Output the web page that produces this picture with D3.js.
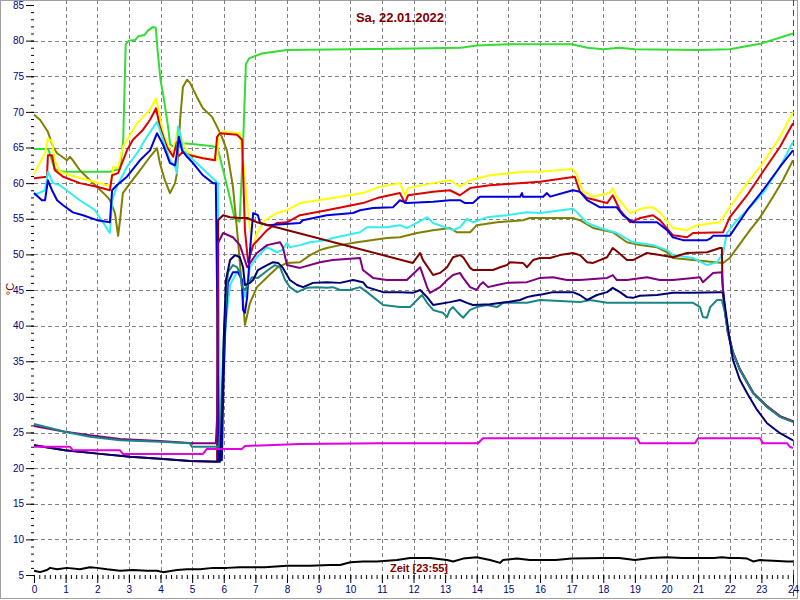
<!DOCTYPE html>
<html><head><meta charset="utf-8">
<script src="https://cdn.jsdelivr.net/npm/d3@7"></script>
<style>
html,body{margin:0;padding:0;background:#fff;}
svg{display:block;font-family:"Liberation Sans",Arial,sans-serif;}
</style></head>
<body>
<svg id="chart" width="800" height="600"></svg>
<script>
// ---------- data (hour, °C) ----------
const title = "Sa, 22.01.2022";
const timeLabel = "Zeit [23:55]";
const unitLabel = "°C";
const yTickValues = [5,10,15,20,25,30,35,40,45,50,55,60,65,70,75,80,85];
const xTickValues = [0,1,2,3,4,5,6,7,8,9,10,11,12,13,14,15,16,17,18,19,20,21,22,23,24];

const green = [[0,64.8],[0.45,64.8],[0.65,62],[0.9,61.6],[2.4,61.6],[2.72,62],[2.82,66],[2.9,79.5],[3.0,80],[3.2,80.1],[3.3,80.6],[3.5,80.8],[3.6,81.4],[3.75,81.9],[3.85,81.8],[3.9,79],[4.0,74.5],[4.1,72],[4.25,67.6],[4.3,65.5],[4.5,64.8],[4.7,65.6],[5.0,65.5],[5.6,65.2],[5.8,65],[6.0,61.5],[6.35,55],[6.5,54.6],[6.6,64],[6.7,76.7],[6.8,77.5],[7.2,78.2],[8,78.7],[12,78.9],[13.5,79],[14,79.3],[15,79.5],[17,79.5],[17.5,79],[18,78.8],[18.5,79],[19,78.8],[21,78.7],[22,78.8],[23,79.6],[24,81]];

const yellow = [[0,61.3],[0.35,64.2],[0.44,66.3],[0.57,65.8],[0.66,63.2],[0.82,61.6],[1.14,61.1],[2.4,59.6],[2.47,60.9],[2.5,62.3],[2.66,62.1],[2.81,65.1],[3.04,66.8],[3.26,68.4],[3.45,69.3],[3.67,70.3],[3.86,71.9],[3.92,70.7],[4.08,67.0],[4.3,64.6],[4.4,64.2],[4.52,67.0],[4.55,67.5],[4.68,66.1],[4.84,64.4],[5.15,63.7],[5.79,63.2],[5.82,66.8],[5.98,67.2],[6.51,67.0],[6.61,63.2],[6.89,50.6],[7.05,53.0],[7.3,54.8],[7.68,55.8],[8.0,56.2],[8.41,57.2],[9.45,57.9],[10.4,58.6],[10.94,59.5],[11.57,60.0],[11.73,58.3],[11.83,59.3],[12.62,60.0],[13.15,60.4],[13.47,59.5],[13.79,60.4],[14.42,61.1],[15.46,61.6],[16.0,61.6],[17.04,62.0],[17.17,61.1],[17.36,58.8],[17.68,58.1],[18.2,58.6],[18.3,59.3],[18.42,58.1],[18.85,55.8],[19.26,56.5],[19.57,56.6],[19.79,55.9],[20.2,53.7],[20.65,53.4],[20.96,54.1],[21.69,54.5],[22.0,56.6],[22.55,60.0],[23.05,62.8],[23.59,66.5],[24,70.0]];

const red = [[0,60.7],[0.41,60.9],[0.44,63.9],[0.57,63.9],[0.66,61.8],[0.92,60.9],[1.45,60.0],[1.99,59.5],[2.4,59.0],[2.47,61.1],[2.66,61.4],[2.94,64.6],[3.13,66.1],[3.45,67.5],[3.67,68.9],[3.86,70.5],[3.98,67.9],[4.2,65.1],[4.4,63.7],[4.52,65.8],[4.55,63.7],[4.71,64.4],[4.93,63.9],[5.34,63.5],[5.72,63.2],[5.79,66.5],[5.88,67.0],[6.42,66.8],[6.58,66.1],[6.67,53.4],[6.77,48.9],[6.93,51.3],[7.37,53.4],[7.68,54.4],[8.0,54.5],[8.41,55.5],[9.26,56.2],[10.4,57.2],[10.85,57.9],[11.57,58.6],[11.73,57.2],[11.83,58.3],[12.62,58.8],[13.15,59.0],[13.47,58.3],[13.79,59.3],[14.42,59.7],[16.0,60.2],[17.1,60.9],[17.26,58.8],[17.49,57.9],[18.12,57.2],[18.3,58.3],[18.53,56.2],[18.85,54.5],[19.17,55.1],[19.57,55.5],[19.79,54.8],[20.2,52.7],[20.65,52.4],[20.84,53.0],[21.79,53.1],[22.0,55.2],[22.55,58.3],[23.05,61.6],[23.59,65.1],[24,68.4]];

const cyan = [[0,58.3],[0.35,59.0],[0.44,61.6],[0.6,60.0],[0.82,59.7],[1.45,57.6],[1.93,56.2],[2.4,53.0],[2.47,57.6],[2.62,59.5],[2.94,62.3],[3.26,64.2],[3.57,66.5],[3.89,68.6],[4.08,66.1],[4.3,63.2],[4.46,62.3],[4.52,61.4],[4.55,67.9],[4.62,67.0],[4.71,64.6],[5.15,62.8],[5.72,60.4],[5.82,60.0],[5.88,23.9],[5.94,29.6],[6.07,40.8],[6.2,45.7],[6.45,47.8],[6.58,46.4],[6.67,44.0],[6.83,48.2],[7.05,49.6],[7.37,51.0],[7.68,50.3],[7.84,50.6],[8.0,51.6],[8.09,51.0],[8.41,51.3],[8.73,51.7],[9.26,52.0],[9.45,52.3],[10.31,53.1],[10.53,53.8],[11.16,53.8],[11.57,54.1],[11.79,53.7],[12.43,55.2],[12.62,54.4],[13.25,53.4],[13.47,53.8],[13.69,55.0],[13.88,54.5],[14.32,55.2],[14.96,55.5],[15.59,55.9],[16.0,55.8],[17.04,56.4],[17.17,55.9],[17.49,54.4],[17.9,53.7],[18.43,53.0],[18.94,51.7],[19.57,51.3],[20.02,50.6],[20.2,49.9],[20.84,49.5],[21.28,48.5],[21.6,48.9],[21.79,50.2],[21.91,53.0],[22.23,54.8],[22.55,56.2],[23.05,58.6],[23.59,62.3],[24,65.8]];

const blue = [[0,58.6],[0.25,57.6],[0.35,57.6],[0.44,60.4],[0.57,59.0],[0.73,57.6],[0.92,56.9],[1.23,55.9],[1.55,55.5],[1.99,54.8],[2.4,54.5],[2.47,59.0],[2.62,59.7],[2.94,60.9],[3.35,63.2],[3.67,64.6],[3.89,67.0],[4.08,65.4],[4.3,62.8],[4.46,62.5],[4.52,64.2],[4.58,66.5],[4.68,64.6],[4.84,63.7],[5.03,62.8],[5.34,61.1],[5.66,60.0],[5.75,60.0],[5.85,21.1],[5.94,21.1],[5.98,29.6],[6.04,39.0],[6.13,46.0],[6.29,47.5],[6.45,47.5],[6.58,46.4],[6.61,42.2],[6.67,41.8],[6.74,44.0],[6.83,50.6],[6.93,55.8],[7.08,55.5],[7.15,54.4],[7.37,54.1],[8.41,54.4],[8.5,54.8],[9.26,55.5],[10.09,55.8],[10.31,56.2],[10.72,56.5],[11.35,56.6],[11.57,57.6],[11.79,57.2],[12.62,57.4],[13.15,57.6],[13.47,57.6],[13.63,57.2],[13.88,57.2],[14.1,58.1],[15.37,58.1],[15.43,58.6],[15.46,58.1],[16.1,58.1],[16.22,58.6],[16.32,58.1],[17.04,59.0],[17.26,58.8],[17.49,57.6],[17.9,56.6],[18.43,56.6],[18.62,55.5],[18.94,54.5],[19.7,54.5],[20.02,53.4],[20.2,52.4],[20.52,52.0],[21.28,52.0],[21.38,52.2],[21.47,52.6],[22.0,52.6],[22.55,56.2],[23.05,59.0],[23.59,62.3],[24,64.6]];

const olive = [[0,69.6],[0.19,68.9],[0.44,67.2],[0.6,65.1],[0.73,64.2],[0.89,63.7],[1.04,63.2],[1.14,63.7],[1.23,63.2],[1.45,61.8],[1.77,60.4],[1.99,59.5],[2.31,58.1],[2.4,57.6],[2.56,55.8],[2.66,52.6],[2.72,54.8],[2.81,58.6],[3.04,60.0],[3.35,61.8],[3.67,63.7],[3.89,64.9],[3.98,62.8],[4.14,60.4],[4.3,58.6],[4.46,60.0],[4.52,61.4],[4.62,68.9],[4.71,73.5],[4.84,74.5],[4.93,74.1],[5.15,72.1],[5.34,70.5],[5.63,69.3],[5.79,67.9],[5.94,66.5],[6.1,64.6],[6.29,59.5],[6.45,52.0],[6.58,45.0],[6.67,40.1],[6.83,43.2],[7.05,45.4],[7.37,46.8],[7.68,48.1],[8.0,48.8],[8.41,48.9],[8.73,49.9],[9.04,50.6],[9.26,50.9],[9.68,51.3],[10.21,51.7],[11.16,52.3],[11.57,52.4],[12.11,53.0],[12.62,53.4],[13.15,53.7],[13.38,53.1],[13.79,53.1],[14.0,54.1],[14.64,54.5],[15.46,54.8],[15.68,55.1],[17.04,55.1],[17.26,54.8],[17.68,53.7],[18.3,53.1],[18.75,51.7],[19.17,51.3],[19.7,51.0],[20.02,50.3],[20.2,49.5],[20.84,49.2],[21.79,48.8],[22.0,49.5],[22.23,50.9],[22.64,53.4],[22.96,55.2],[23.37,58.1],[23.68,60.4],[24,63.2]];

const maroon = [[0,23.2],[0.98,22.5],[2.09,22.0],[3.04,21.6],[3.98,21.3],[4.93,21.0],[5.79,20.9],[5.82,54.8],[5.98,55.5],[6.2,55.2],[6.51,55.1],[6.74,55.1],[7.05,54.5],[11.98,48.8],[12.21,50.2],[12.3,49.2],[12.62,47.1],[12.84,47.4],[13.06,48.2],[13.25,49.6],[13.47,49.9],[13.57,49.6],[13.79,48.1],[13.88,47.8],[14.51,47.8],[14.74,48.2],[14.96,48.5],[15.05,48.9],[15.46,48.8],[15.59,48.2],[15.78,49.2],[16.0,49.5],[16.32,49.5],[16.63,49.9],[17.04,50.2],[17.26,49.9],[17.49,48.9],[17.68,48.8],[18.12,49.6],[18.3,50.9],[18.47,50.3],[18.75,49.2],[18.94,49.2],[19.38,50.2],[19.79,49.9],[20.2,49.6],[20.65,50.2],[21.28,50.3],[21.69,50.9],[21.75,50.9],[21.77,46.0],[21.85,42.0],[21.94,39.2],[22.1,36.3],[22.32,33.9],[22.74,30.6],[23.18,28.7],[23.59,27.3],[24,26.6]];

const purple = [[0,25.9],[0.98,25.1],[1.77,24.6],[2.72,24.1],[3.98,23.8],[5.03,23.5],[5.75,23.5],[5.79,27.2],[5.82,51.6],[5.98,53.0],[6.29,52.4],[6.51,51.3],[6.74,48.2],[7.05,50.2],[7.37,51.3],[7.78,51.7],[7.87,51.0],[8.0,48.5],[8.41,48.1],[9.04,48.9],[9.45,49.2],[10.31,49.5],[10.4,47.8],[10.72,46.7],[11.16,46.4],[11.79,46.4],[12.21,48.2],[12.43,45.4],[12.52,44.6],[12.84,45.4],[13.06,46.4],[13.25,47.1],[13.47,47.4],[13.57,46.7],[13.79,45.4],[14.0,45.0],[14.1,45.7],[14.2,46.1],[14.36,45.4],[14.64,45.7],[14.96,46.0],[15.59,46.1],[16.0,46.7],[16.41,46.8],[16.85,46.4],[17.26,46.4],[18.12,46.7],[18.3,47.1],[18.43,46.4],[18.75,46.4],[19.38,46.8],[19.79,46.4],[20.2,46.4],[20.84,46.7],[21.06,46.8],[21.15,46.1],[21.47,47.4],[21.75,47.5],[21.8,44.0],[21.85,42.0],[21.94,39.1],[22.1,36.2],[22.32,33.8],[22.74,30.5],[23.18,28.6],[23.59,27.2],[24,26.5]];

const navy = [[0,23.2],[0.98,22.5],[2.09,22.0],[3.04,21.6],[3.98,21.3],[4.93,21.0],[5.88,20.9],[5.94,26.8],[6.01,39.4],[6.07,46.4],[6.2,49.2],[6.36,49.9],[6.51,49.6],[6.61,48.2],[6.67,45.7],[6.83,46.0],[6.93,46.4],[7.08,47.8],[7.37,48.5],[7.56,48.9],[7.72,48.8],[7.87,48.1],[8.09,46.4],[8.32,45.7],[8.51,45.4],[8.82,46.0],[9.26,46.1],[9.68,46.0],[10.09,46.4],[10.4,46.1],[10.53,45.4],[11.04,44.7],[11.57,44.7],[11.98,44.6],[12.21,45.0],[12.43,44.0],[12.62,42.9],[13.15,43.3],[13.47,43.6],[13.69,43.2],[13.88,42.9],[14.42,43.0],[14.96,43.3],[15.37,43.6],[15.59,44.0],[15.78,44.2],[16.09,44.4],[16.41,44.7],[17.04,44.7],[17.26,44.3],[17.49,43.6],[17.8,44.3],[18.12,44.7],[18.3,45.3],[18.53,44.7],[18.75,44.0],[18.94,43.9],[19.16,44.2],[19.7,44.3],[20.2,44.6],[20.84,44.6],[21.69,44.7],[21.79,44.6],[21.91,40.8],[22.0,38.0],[22.1,35.2],[22.32,32.4],[22.55,30.5],[22.86,28.2],[23.18,26.3],[23.59,24.9],[24,23.9]];

const teal = [[0,26.2],[0.98,25.1],[1.77,24.4],[2.72,23.9],[3.98,23.7],[4.93,23.5],[4.99,23.0],[5.85,23.0],[5.91,26.8],[6.01,39.4],[6.13,47.5],[6.29,48.5],[6.42,48.2],[6.51,47.5],[6.58,45.4],[6.67,45.0],[6.89,46.8],[7.08,46.7],[7.4,47.8],[7.62,48.5],[7.78,48.2],[7.94,46.4],[8.09,45.4],[8.32,44.7],[8.63,45.3],[8.95,45.4],[9.26,45.3],[9.45,45.4],[9.68,45.0],[9.99,45.0],[10.31,45.4],[10.53,44.7],[11.04,42.9],[11.57,42.6],[11.89,42.6],[12.11,43.6],[12.27,44.3],[12.43,43.2],[12.62,42.2],[12.84,41.9],[12.93,41.8],[13.06,41.2],[13.15,42.2],[13.25,42.6],[13.41,41.8],[13.57,41.1],[13.79,42.2],[14.0,42.6],[14.32,42.9],[14.64,42.6],[14.83,43.2],[15.59,43.2],[16.0,43.6],[17.26,43.3],[17.58,43.6],[18.12,43.2],[20.84,43.2],[21.06,42.6],[21.15,41.2],[21.28,41.1],[21.38,42.6],[21.6,43.6],[21.75,43.6],[21.85,41.8],[21.94,39.0],[22.1,36.2],[22.32,33.8],[22.74,30.5],[23.18,28.6],[23.59,27.2],[24,26.5]];

const magenta = [[0,23.0],[1.14,23.0],[1.23,22.5],[2.72,22.5],[2.81,22.0],[5.34,22.0],[5.47,22.7],[6.58,22.7],[6.67,23.1],[8.41,23.4],[10.94,23.5],[14.04,23.5],[14.2,24.2],[19.07,24.2],[19.16,23.5],[20.9,23.5],[21.0,24.2],[22.96,24.2],[23.05,23.5],[23.81,23.5],[23.9,23.0],[24,22.8]];

const black = [[0,5.6],[0.19,5.4],[0.41,5.7],[0.51,6.0],[0.73,5.8],[1.04,6.0],[1.45,5.8],[1.77,6.1],[1.99,6.0],[2.31,5.8],[2.72,5.6],[3.13,5.7],[3.57,5.6],[3.89,5.6],[4.08,5.4],[4.52,5.7],[4.84,5.8],[5.25,5.8],[5.66,6.0],[6.1,6.0],[6.51,6.1],[7.3,6.1],[8.0,6.3],[8.73,6.3],[9.36,6.4],[9.68,6.4],[10.0,6.8],[10.4,6.9],[10.85,6.9],[11.48,7.1],[11.89,7.4],[12.52,7.4],[13.06,7.1],[13.25,6.9],[13.57,7.3],[14.0,7.5],[14.42,7.1],[14.74,6.7],[14.83,7.1],[15.27,7.3],[15.68,7.1],[16.5,7.1],[17.0,7.3],[18.0,7.4],[18.5,7.4],[19.0,7.1],[19.5,7.4],[20.0,7.5],[20.5,7.4],[21.0,7.4],[21.5,7.4],[21.75,7.5],[22.0,7.4],[22.3,7.4],[22.55,7.3],[22.74,6.9],[22.96,7.1],[23.37,7.0],[23.81,6.9],[24,6.9]];

// draw order and colours
const seriesList = [
  {data: green,   color: "#33dd33"},
  {data: olive,   color: "#808000"},
  {data: yellow,  color: "#ffff00"},
  {data: red,     color: "#dd0000"},
  {data: cyan,    color: "#33eeee"},
  {data: blue,    color: "#0000dd"},
  {data: maroon,  color: "#800000"},
  {data: purple,  color: "#800080"},
  {data: teal,    color: "#1a8585"},
  {data: navy,    color: "#000070"},
  {data: magenta, color: "#e000e0"},
  {data: black,   color: "#000000"}
];

// ---------- chart ----------
const svg = d3.select("#chart");
const x = d3.scaleLinear().domain([0,24]).range([34,793]);
const y = d3.scaleLinear().domain([5,85]).range([575,5]);

svg.append("rect").attr("x",0).attr("y",0).attr("width",800).attr("height",600).attr("fill","#fff");
svg.append("rect").attr("x",0.5).attr("y",0.5).attr("width",797).attr("height",598)
   .attr("fill","none").attr("stroke","#a0a0a0");

// grid
const grid = svg.append("g").attr("stroke","#808080").attr("stroke-dasharray","4,3").attr("stroke-width",1);
grid.selectAll("line.h").data(yTickValues.filter(v=>v>5 && v<85)).join("line")
  .attr("x1",x(0)).attr("x2",x(24)).attr("y1",d=>Math.round(y(d))+0.5).attr("y2",d=>Math.round(y(d))+0.5);
grid.selectAll("line.v").data(xTickValues.filter(v=>v>0 && v<24)).join("line")
  .attr("x1",d=>Math.round(x(d))+0.5).attr("x2",d=>Math.round(x(d))+0.5).attr("y1",0).attr("y2",y(5));

// current-time marker
svg.append("line").attr("x1",Math.round(x(24))+0.5).attr("x2",Math.round(x(24))+0.5)
  .attr("y1",0).attr("y2",598).attr("stroke","#008000").attr("stroke-dasharray","6,4");

// axes
const axisColor = "#000080";
const yMinor = svg.append("g").attr("transform",`translate(${x(0)},0)`)
  .call(d3.axisLeft(y).tickValues(d3.range(5,86,1)).tickSize(3).tickFormat(""));
const yMajor = svg.append("g").attr("transform",`translate(${x(0)},0)`)
  .call(d3.axisLeft(y).tickValues(yTickValues).tickSize(8).tickPadding(2));
const xMinor = svg.append("g").attr("transform",`translate(0,${y(5)})`)
  .call(d3.axisBottom(x).tickValues(d3.range(0,24.01,1/6)).tickSize(4).tickFormat(""));
const xMajor = svg.append("g").attr("transform",`translate(0,${y(5)})`)
  .call(d3.axisBottom(x).tickValues(xTickValues).tickSize(8).tickPadding(3).tickFormat(d3.format("d")));
[yMinor,yMajor,xMinor,xMajor].forEach(g=>{
  g.select(".domain").remove();
  g.selectAll("line").attr("stroke","#000");
  g.selectAll("text").attr("fill",axisColor).attr("font-size","10px")
    .attr("font-family","'Liberation Sans',Arial,sans-serif");
});

// series
const line = d3.line().x(d=>x(d[0])).y(d=>y(d[1]));
svg.append("g").selectAll("path").data(seriesList).join("path")
  .attr("d",d=>line(d.data)).attr("fill","none")
  .attr("stroke",d=>d.color).attr("stroke-width",2).attr("stroke-linejoin","round");

// texts
svg.append("text").attr("x",400).attr("y",22).attr("text-anchor","middle")
  .attr("font-size","13px").attr("font-weight","bold").attr("fill","#800000").text(title);
svg.append("text").attr("x",419).attr("y",572).attr("text-anchor","middle")
  .attr("font-size","11px").attr("font-weight","bold").attr("fill","#800000").text(timeLabel);
svg.append("text").attr("transform","translate(14,289) rotate(-90)").attr("text-anchor","middle")
  .attr("font-size","11px").attr("fill","#800000").text(unitLabel);
</script>
</body></html>
